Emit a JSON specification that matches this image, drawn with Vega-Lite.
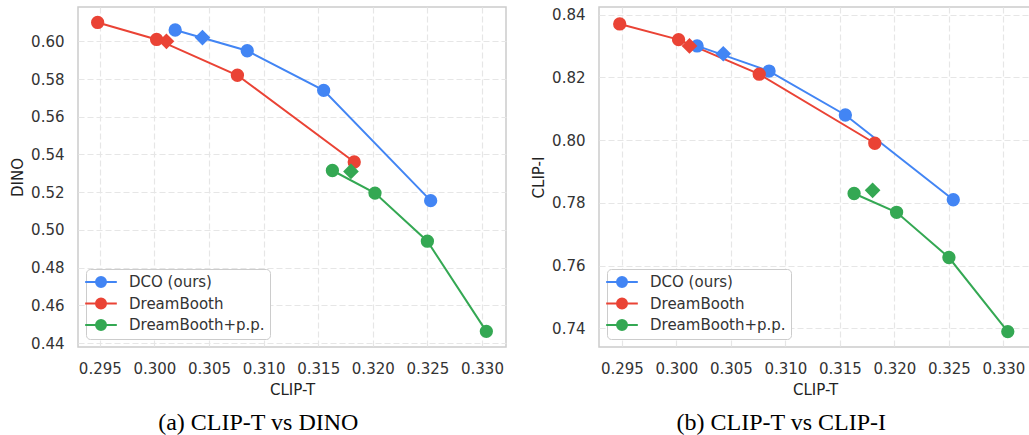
{
  "$schema": "https://vega.github.io/schema/vega-lite/v6.json",
  "padding": {"left": 9, "top": 6, "right": 0, "bottom": 0},
  "background": "white",
  "spacing": 23,
  "align": "none",
  "datasets": {
    "dino": [
      {"clipt": 0.3019, "score": 0.606, "method": "DCO (ours)", "marker": "circle"},
      {"clipt": 0.3085, "score": 0.595, "method": "DCO (ours)", "marker": "circle"},
      {"clipt": 0.3155, "score": 0.574, "method": "DCO (ours)", "marker": "circle"},
      {"clipt": 0.3253, "score": 0.5155, "method": "DCO (ours)", "marker": "circle"},
      {"clipt": 0.2948, "score": 0.610, "method": "DreamBooth", "marker": "circle"},
      {"clipt": 0.3002, "score": 0.601, "method": "DreamBooth", "marker": "circle"},
      {"clipt": 0.3076, "score": 0.582, "method": "DreamBooth", "marker": "circle"},
      {"clipt": 0.3183, "score": 0.536, "method": "DreamBooth", "marker": "circle"},
      {"clipt": 0.3163, "score": 0.5315, "method": "DreamBooth+p.p.", "marker": "circle"},
      {"clipt": 0.3202, "score": 0.5195, "method": "DreamBooth+p.p.", "marker": "circle"},
      {"clipt": 0.3250, "score": 0.494, "method": "DreamBooth+p.p.", "marker": "circle"},
      {"clipt": 0.3304, "score": 0.4462, "method": "DreamBooth+p.p.", "marker": "circle"},
      {"clipt": 0.3044, "score": 0.602, "method": "DCO (ours)", "marker": "diamond"},
      {"clipt": 0.3011, "score": 0.600, "method": "DreamBooth", "marker": "diamond"},
      {"clipt": 0.3180, "score": 0.531, "method": "DreamBooth+p.p.", "marker": "diamond"}
    ],
    "clipi": [
      {"clipt": 0.3019, "score": 0.830, "method": "DCO (ours)", "marker": "circle"},
      {"clipt": 0.3085, "score": 0.822, "method": "DCO (ours)", "marker": "circle"},
      {"clipt": 0.3155, "score": 0.808, "method": "DCO (ours)", "marker": "circle"},
      {"clipt": 0.3254, "score": 0.781, "method": "DCO (ours)", "marker": "circle"},
      {"clipt": 0.2948, "score": 0.837, "method": "DreamBooth", "marker": "circle"},
      {"clipt": 0.3002, "score": 0.832, "method": "DreamBooth", "marker": "circle"},
      {"clipt": 0.3076, "score": 0.821, "method": "DreamBooth", "marker": "circle"},
      {"clipt": 0.3182, "score": 0.799, "method": "DreamBooth", "marker": "circle"},
      {"clipt": 0.3163, "score": 0.783, "method": "DreamBooth+p.p.", "marker": "circle"},
      {"clipt": 0.3202, "score": 0.777, "method": "DreamBooth+p.p.", "marker": "circle"},
      {"clipt": 0.3250, "score": 0.7626, "method": "DreamBooth+p.p.", "marker": "circle"},
      {"clipt": 0.3304, "score": 0.739, "method": "DreamBooth+p.p.", "marker": "circle"},
      {"clipt": 0.3043, "score": 0.8275, "method": "DCO (ours)", "marker": "diamond"},
      {"clipt": 0.3012, "score": 0.830, "method": "DreamBooth", "marker": "diamond"},
      {"clipt": 0.3180, "score": 0.784, "method": "DreamBooth+p.p.", "marker": "diamond"}
    ]
  },
  "config": {
    "font": "DejaVu Sans",
    "view": {"stroke": "#cccccc", "strokeWidth": 1.5},
    "axis": {
      "domain": false,
      "ticks": false,
      "labelFont": "DejaVu Sans",
      "labelFontSize": 15,
      "labelColor": "#333333",
      "titleFont": "DejaVu Sans",
      "titleFontSize": 15,
      "titleFontWeight": "normal",
      "titleColor": "#222222",
      "gridColor": "#e6e6e6",
      "gridWidth": 1.2,
      "gridDash": [6, 3],
      "labelPadding": 14,
      "titlePadding": 5
    },
    "legend": {
      "orient": "bottom-left",
      "offset": 8,
      "title": null,
      "labelFont": "DejaVu Sans",
      "labelFontSize": 15,
      "labelColor": "#333333",
      "fillColor": "white",
      "strokeColor": "#cccccc",
      "cornerRadius": 4,
      "padding": 5,
      "rowPadding": 3.5,
      "symbolType": "M-2.26,0L2.26,0M0.714,0A0.714,0.714,0,1,1,-0.714,0A0.714,0.714,0,1,1,0.714,0Z",
      "symbolSize": 196,
      "symbolStrokeWidth": 2,
      "symbolOffset": 2,
      "labelOffset": 20
    },
    "title": {
      "orient": "bottom",
      "font": "Liberation Serif",
      "fontSize": 24,
      "fontWeight": "normal",
      "color": "#000000",
      "anchor": "middle",
      "frame": "bounds",
      "offset": 14
    }
  },
  "resolve": {"legend": {"color": "independent"}},
  "hconcat": [
    {
      "width": 428,
      "height": 340,
      "title": {"text": "(a) CLIP-T vs DINO"},
      "data": {"name": "dino"},
      "encoding": {
        "x": {"field": "clipt", "type": "quantitative", "title": "CLIP-T",
              "scale": {"domain": [0.293, 0.3322], "nice": false, "zero": false},
              "axis": {"values": [0.295, 0.3, 0.305, 0.31, 0.315, 0.32, 0.325, 0.33], "format": ".3f", "labelPadding": 14, "titlePadding": 6}},
        "y": {"field": "score", "type": "quantitative", "title": "DINO",
              "scale": {"domain": [0.4379, 0.6182], "nice": false, "zero": false},
              "axis": {"values": [0.44, 0.46, 0.48, 0.5, 0.52, 0.54, 0.56, 0.58, 0.6], "format": ".2f"}},
        "color": {"field": "method", "type": "nominal",
                  "scale": {"domain": ["DCO (ours)", "DreamBooth", "DreamBooth+p.p."], "range": ["#4285F4", "#EA4335", "#34A853"]},
                  "legend": {"encode": {"symbols": {"update": {"fill": {"scale": "color", "field": "value"}, "stroke": {"scale": "color", "field": "value"}, "strokeWidth": {"value": 2}, "opacity": {"value": 1}}}}}}
      },
      "layer": [
        {"transform": [{"filter": "datum.marker == 'circle'"}], "mark": {"type": "line", "strokeWidth": 2}},
        {"transform": [{"filter": "datum.marker == 'circle'"}], "mark": {"type": "point", "shape": "circle", "filled": true, "size": 177, "opacity": 1}},
        {"transform": [{"filter": "datum.marker == 'diamond'"}], "mark": {"type": "point", "shape": "diamond", "filled": true, "size": 246, "opacity": 1}}
      ]
    },
    {
      "width": 432,
      "height": 340,
      "title": {"text": "(b) CLIP-T vs CLIP-I"},
      "data": {"name": "clipi"},
      "encoding": {
        "x": {"field": "clipt", "type": "quantitative", "title": "CLIP-T",
              "scale": {"domain": [0.2929, 0.33253], "nice": false, "zero": false},
              "axis": {"values": [0.295, 0.3, 0.305, 0.31, 0.315, 0.32, 0.325, 0.33], "format": ".3f", "labelPadding": 14, "titlePadding": 6}},
        "y": {"field": "score", "type": "quantitative", "title": "CLIP-I",
              "scale": {"domain": [0.7341, 0.8424], "nice": false, "zero": false},
              "axis": {"values": [0.74, 0.76, 0.78, 0.8, 0.82, 0.84], "format": ".2f"}},
        "color": {"field": "method", "type": "nominal",
                  "scale": {"domain": ["DCO (ours)", "DreamBooth", "DreamBooth+p.p."], "range": ["#4285F4", "#EA4335", "#34A853"]},
                  "legend": {"encode": {"symbols": {"update": {"fill": {"scale": "color", "field": "value"}, "stroke": {"scale": "color", "field": "value"}, "strokeWidth": {"value": 2}, "opacity": {"value": 1}}}}}}
      },
      "layer": [
        {"transform": [{"filter": "datum.marker == 'circle'"}], "mark": {"type": "line", "strokeWidth": 2}},
        {"transform": [{"filter": "datum.marker == 'circle'"}], "mark": {"type": "point", "shape": "circle", "filled": true, "size": 177, "opacity": 1}},
        {"transform": [{"filter": "datum.marker == 'diamond'"}], "mark": {"type": "point", "shape": "diamond", "filled": true, "size": 246, "opacity": 1}}
      ]
    }
  ]
}
